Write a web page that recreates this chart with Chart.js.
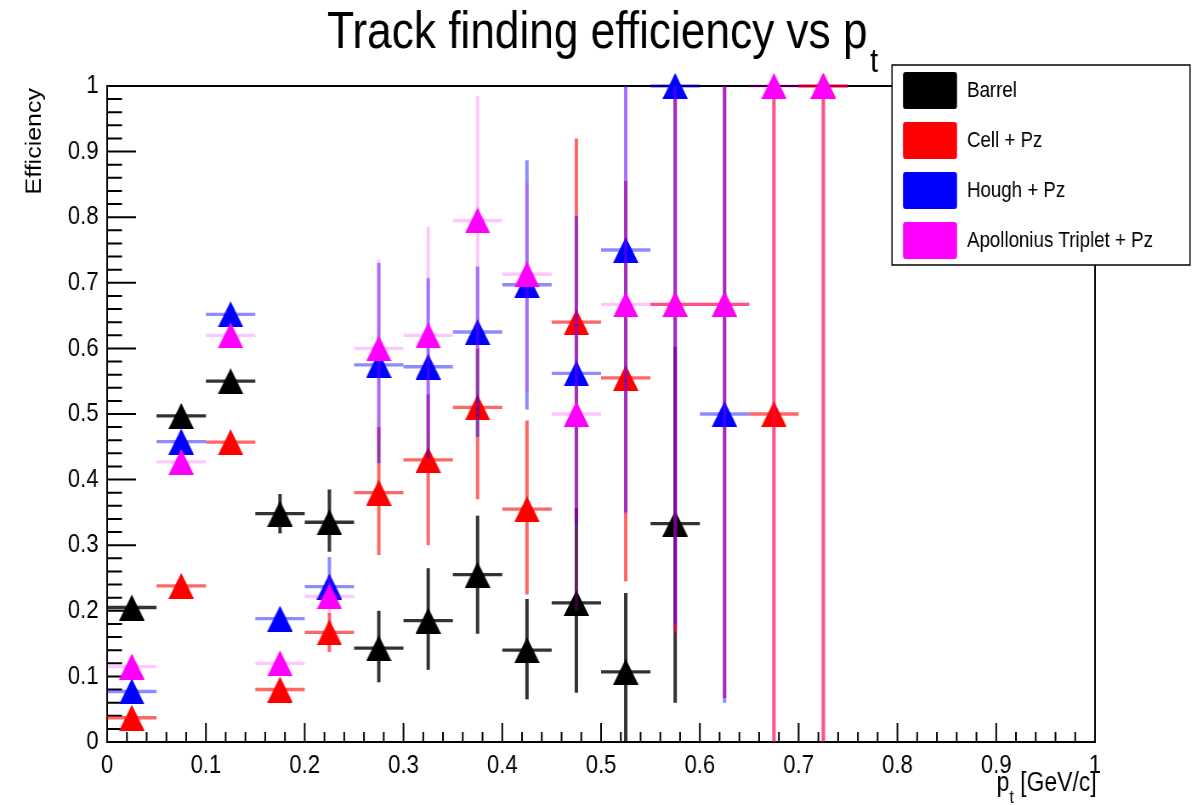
<!DOCTYPE html>
<html>
<head>
<meta charset="utf-8">
<script src="https://cdn.jsdelivr.net/npm/chart.js@4.4.1/dist/chart.umd.min.js"></script>
<style>
  html, body { margin: 0; padding: 0; background: #fff; }
  #chart { display: block; }
</style>
</head>
<body>
<canvas id="chart" width="1408" height="805" style="width:1197px;height:805px"></canvas>
<script>
// the picture is squeezed horizontally, so draw wide and let css squash it
const SX = 1408 / 1197;
const FONT = "'Liberation Sans', Arial, Helvetica, sans-serif";

const binCenters = [0.025, 0.075, 0.125, 0.175, 0.225, 0.275, 0.325, 0.375, 0.425, 0.475, 0.525, 0.575, 0.625, 0.675, 0.725];
const binHalfWidth = 0.025;

const barrelEff     = [0.205, 0.497, 0.55, 0.348, 0.335, 0.143, 0.185, 0.255, 0.14, 0.212, 0.107, 0.333];
const barrelErrUp   = [0.005, 0.005, 0.005, 0.03, 0.05, 0.057, 0.08, 0.09, 0.078, 0.145, 0.12, 0.27];
const barrelErrDown = [0.005, 0.005, 0.005, 0.03, 0.045, 0.052, 0.075, 0.09, 0.075, 0.137, 0.107, 0.273];

const cellEff     = [0.037, 0.238, 0.457, 0.08, 0.167, 0.38, 0.43, 0.51, 0.355, 0.64, 0.555, 0.667, 0.667, 0.5, 1.0];
const cellErrUp   = [0.005, 0.005, 0.005, 0.005, 0.03, 0.1, 0.1, 0.09, 0.135, 0.28, 0.3, 0.333, 0.333, 0.5, 0];
const cellErrDown = [0.005, 0.005, 0.005, 0.005, 0.03, 0.095, 0.13, 0.14, 0.13, 0.3, 0.31, 0.5, 0.6, 0.5, 1.0];

const houghEff     = [0.077, 0.458, 0.652, 0.188, 0.237, 0.575, 0.572, 0.625, 0.697, 0.562, 0.75, 1.0, 0.5];
const houghErrUp   = [0.005, 0.005, 0.005, 0.005, 0.045, 0.155, 0.135, 0.1, 0.19, 0.24, 0.25, 0, 0.5];
const houghErrDown = [0.005, 0.005, 0.005, 0.005, 0.03, 0.15, 0.14, 0.16, 0.19, 0.23, 0.4, 0.82, 0.44];

const apolloEff     = [0.115, 0.427, 0.62, 0.12, 0.222, 0.6, 0.62, 0.795, 0.713, 0.5, 0.667, 0.667, 0.667, 1.0, 1.0];
const apolloErrUp   = [0.005, 0.005, 0.005, 0.005, 0.03, 0.135, 0.165, 0.19, 0.14, 0.3, 0.333, 0.333, 0.333, 0, 0];
const apolloErrDown = [0.005, 0.005, 0.005, 0.005, 0.03, 0.14, 0.15, 0.2, 0.18, 0.3, 0.32, 0.5, 0.6, 1.0, 1.0];

const seriesNames = ["Barrel", "Cell + Pz", "Hough + Pz", "Apollonius Triplet + Pz"];
const markerColors = ["#000000", "#ff0000", "#0000ff", "#ff00ff"];
const errorColors = ["rgba(0,0,0,0.8)", "rgba(255,0,0,0.6)", "rgba(0,0,255,0.45)", "rgba(255,0,255,0.22)"];

const xTickLabels = ["0", "0.1", "0.2", "0.3", "0.4", "0.5", "0.6", "0.7", "0.8", "0.9", "1"];
const yTickLabels = ["0", "0.1", "0.2", "0.3", "0.4", "0.5", "0.6", "0.7", "0.8", "0.9", "1"];

function toPoints(eff, up, down) {
    return eff.map((v, i) => ({ x: binCenters[i], y: v, up: up[i], down: down[i] }));
}

function triangle(color) {
    const c = document.createElement("canvas");
    c.width = 30;
    c.height = 26;
    const g = c.getContext("2d");
    g.fillStyle = color;
    g.beginPath();
    g.moveTo(15, 0);
    g.lineTo(30, 26);
    g.lineTo(0, 26);
    g.closePath();
    g.fill();
    return c;
}

const series = [
    toPoints(barrelEff, barrelErrUp, barrelErrDown),
    toPoints(cellEff, cellErrUp, cellErrDown),
    toPoints(houghEff, houghErrUp, houghErrDown),
    toPoints(apolloEff, apolloErrUp, apolloErrDown)
];

const datasets = series.map((pts, i) => ({
    label: seriesNames[i],
    data: pts,
    pointStyle: triangle(markerColors[i]),
    pointRadius: 12,
    errColor: errorColors[i],
    order: 4 - i,
    clip: false
}));

// ROOT-like frame with ticks on the inside
const frame = {
    id: "frame",
    beforeDatasetsDraw(chart) {
        const { ctx, chartArea: a, scales: { x, y } } = chart;
        ctx.save();
        ctx.strokeStyle = "#000";
        ctx.lineWidth = 2;
        ctx.strokeRect(a.left, a.top, a.right - a.left, a.bottom - a.top);
        ctx.beginPath();
        for (let k = 0; k <= 50; k++) {
            const v = k / 50;
            const major = k % 5 === 0;
            const py = y.getPixelForValue(v);
            ctx.moveTo(a.left, py);
            ctx.lineTo(a.left + (major ? 34 : 17.5), py);
            const px = x.getPixelForValue(v);
            ctx.moveTo(px, a.bottom);
            ctx.lineTo(px, a.bottom - (major ? 19 : 10));
        }
        ctx.stroke();
        ctx.restore();
    }
};

const errorBars = {
    id: "errorBars",
    beforeDatasetDraw(chart, args) {
        const ds = chart.data.datasets[args.index];
        const { ctx, scales: { x, y } } = chart;
        ctx.save();
        ctx.strokeStyle = ds.errColor;
        ctx.lineCap = "butt";
        ds.data.forEach(p => {
            const px = x.getPixelForValue(p.x);
            const py = y.getPixelForValue(p.y);
            ctx.lineWidth = 3.3;
            ctx.beginPath();
            ctx.moveTo(x.getPixelForValue(p.x - binHalfWidth), py);
            ctx.lineTo(x.getPixelForValue(p.x + binHalfWidth), py);
            ctx.stroke();
            if (p.up + p.down > 0.015) {
                ctx.lineWidth = 4;
                ctx.beginPath();
                ctx.moveTo(px, y.getPixelForValue(p.y + p.up));
                ctx.lineTo(px, y.getPixelForValue(p.y - p.down));
                ctx.stroke();
            }
        });
        ctx.restore();
    }
};

const texts = {
    id: "texts",
    afterDraw(chart) {
        const { ctx, chartArea: a } = chart;
        ctx.save();
        ctx.fillStyle = "#000";
        ctx.textBaseline = "alphabetic";

        // title
        ctx.font = "52px " + FONT;
        ctx.textAlign = "left";
        const title = "Track finding efficiency vs p";
        ctx.fillText(title, 327 * SX, 48);
        const tw = ctx.measureText(title).width;
        ctx.font = "34px " + FONT;
        ctx.fillText("t", 327 * SX + tw + 3, 72);

        // y title
        ctx.save();
        ctx.translate(41 * SX, a.top + 2);
        ctx.rotate(-Math.PI / 2);
        ctx.font = "25px " + FONT;
        ctx.textAlign = "right";
        ctx.fillText("Efficiency", 0, 0);
        ctx.restore();

        // x title
        ctx.font = "27px " + FONT;
        ctx.textAlign = "right";
        const unit = " [GeV/c]";
        ctx.fillText(unit, a.right + 2, 791);
        const uw = ctx.measureText(unit).width;
        ctx.font = "19px " + FONT;
        const sw = ctx.measureText("t").width;
        ctx.fillText("t", a.right + 2 - uw, 803);
        ctx.font = "27px " + FONT;
        ctx.fillText("p", a.right + 2 - uw - sw, 791);

        // legend
        const lx = 892 * SX, ly = 65, lw = (1190 - 892) * SX, lh = 200;
        ctx.fillStyle = "#fff";
        ctx.fillRect(lx, ly, lw, lh);
        ctx.strokeStyle = "#000";
        ctx.lineWidth = 1.5;
        ctx.strokeRect(lx, ly, lw, lh);
        ctx.font = "22px " + FONT;
        ctx.textAlign = "left";
        ctx.textBaseline = "middle";
        chart.data.datasets.forEach((ds, i) => {
            const ry = 72 + i * 50;
            ctx.fillStyle = markerColors[i];
            ctx.beginPath();
            ctx.roundRect(903 * SX, ry, 54 * SX, 37, 3);
            ctx.fill();
            ctx.fillStyle = "#000";
            ctx.fillText(ds.label, 967 * SX, ry + 19);
        });
        ctx.restore();
    }
};

const ctx = document.getElementById("chart").getContext("2d");

const chart = new Chart(ctx, {
    type: "scatter",
    data: { datasets },
    options: {
        responsive: false,
        animation: false,
        devicePixelRatio: 1,
        layout: {
            padding: { top: 86, right: 1408 - Math.round(1095 * SX), left: 0, bottom: 0 }
        },
        plugins: {
            legend: { display: false },
            tooltip: { enabled: false },
            title: { display: false }
        },
        scales: {
            x: {
                type: "linear",
                min: 0,
                max: 1,
                afterFit: s => { s.height = 805 - 742; },
                afterBuildTicks: s => { s.ticks = xTickLabels.map(t => ({ value: parseFloat(t) })); },
                ticks: {
                    autoSkip: false,
                    maxRotation: 0,
                    padding: 8,
                    color: "#000",
                    font: { family: FONT, size: 26 },
                    callback: (v, i) => xTickLabels[i]
                },
                grid: { display: false, drawTicks: false },
                border: { display: false }
            },
            y: {
                type: "linear",
                min: 0,
                max: 1,
                afterFit: s => { s.width = Math.round(107 * SX); },
                afterBuildTicks: s => { s.ticks = yTickLabels.map(t => ({ value: parseFloat(t) })); },
                ticks: {
                    autoSkip: false,
                    padding: 10,
                    color: "#000",
                    font: { family: FONT, size: 26 },
                    callback: (v, i) => yTickLabels[i]
                },
                grid: { display: false, drawTicks: false },
                border: { display: false }
            }
        }
    },
    plugins: [frame, errorBars, texts]
});
</script>
</body>
</html>
